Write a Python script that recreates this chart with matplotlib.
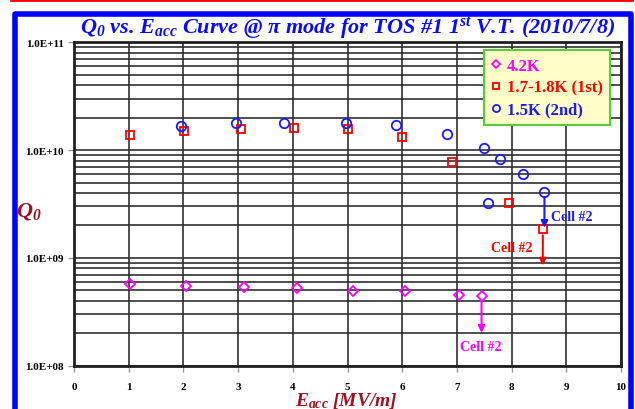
import matplotlib
matplotlib.use("Agg")
import matplotlib.pyplot as plt
from matplotlib.lines import Line2D
from matplotlib.ticker import LogLocator, NullFormatter, FixedLocator

plt.rcParams['font.family'] = ['Liberation Serif', 'DejaVu Serif']
plt.rcParams['mathtext.fontset'] = 'custom'
plt.rcParams['mathtext.rm'] = 'Liberation Serif:bold:italic'
plt.rcParams['mathtext.it'] = 'Liberation Serif:bold:italic'
plt.rcParams['mathtext.bf'] = 'Liberation Serif:bold:italic'

# 4.2K
e_42 = [1.02, 2.05, 3.11, 4.08, 5.10, 6.05, 7.03, 7.45]
q_42 = [5.73e8, 5.46e8, 5.37e8, 5.22e8, 4.96e8, 4.93e8, 4.56e8, 4.46e8]

# 1.7-1.8K (1st)
e_18 = [1.02, 2.01, 3.05, 4.02, 5.01, 6.00, 6.91, 7.95, 8.57]
q_18 = [1.39e10, 1.51e10, 1.57e10, 1.59e10, 1.57e10, 1.32e10, 7.76e9, 3.21e9, 1.84e9]

# 1.5K (2nd)
e_15 = [1.95, 2.96, 3.84, 4.97, 5.88, 6.81, 7.50, 7.79, 8.20, 7.56, 8.60]
q_15 = [1.68e10, 1.77e10, 1.78e10, 1.80e10, 1.72e10, 1.41e10, 1.04e10, 8.3e9, 6.0e9, 3.23e9, 4.11e9]

# "Cell #2" arrows: (x, y_start, y_end, label x, label y)
arrow_15 = (8.60, 3.9e9, 1.79e9, 8.72, 2.4e9)
arrow_18 = (8.57, 1.72e9, 8.0e8, 7.63, 1.26e9)
arrow_42 = (7.45, 4.2e8, 1.9e8, 7.05, 1.5e8)

magenta = '#ff00ff'
red = '#ff0000'
blue = '#1a1aff'
dark_red = '#a01020'

fig = plt.figure(figsize=(6.35, 4.10), dpi=100)
ax = fig.add_axes([0.1165, 0.1056, 0.978 - 0.1165, 0.8944 - 0.1056])

ax.plot(e_42, q_42, 'D', ms=5.5, mfc='none', mec=magenta, mew=1.3, ls='none', label='4.2K')
ax.plot(e_18, q_18, 's', ms=5.8, mfc='none', mec=red, mew=1.3, ls='none', label='1.7-1.8K (1st)')
ax.plot(e_15, q_15, 'o', ms=6.8, mfc='none', mec=blue, mew=1.3, ls='none', label='1.5K (2nd)')

for (x, y0, y1, tx, ty), c in [(arrow_15, blue), (arrow_18, red), (arrow_42, magenta)]:
    ax.annotate('', xy=(x, y1), xytext=(x, y0),
                arrowprops=dict(arrowstyle='-|>', color=c, lw=1.5, mutation_scale=10))
    ax.text(tx, ty, 'Cell #2', color=c, fontsize=10, fontweight='bold', va='center')

ax.set_yscale('log')
ax.set_xlim(0, 10)
ax.set_ylim(1e8, 1e11)
ax.xaxis.set_major_locator(FixedLocator(range(0, 11)))
ax.yaxis.set_major_locator(LogLocator(base=10))
ax.yaxis.set_minor_locator(LogLocator(base=10, subs=range(2, 10)))
ax.yaxis.set_minor_formatter(NullFormatter())
ax.set_yticks([1e8, 1e9, 1e10, 1e11])
ax.set_yticklabels(['1.0E+08', '1.0E+09', '1.0E+10', '1.0E+11'])
ax.tick_params(axis='both', which='major', labelsize=8, color='#999999', length=4, width=1)
ax.tick_params(axis='y', which='minor', length=0)
for lab in ax.get_xticklabels() + ax.get_yticklabels():
    lab.set_fontweight('bold')
ax.tick_params(axis='x', pad=8)

ax.grid(which='major', color='#303030', lw=1.2)
ax.grid(which='minor', axis='y', color='#303030', lw=1.2)
for s in ax.spines.values():
    s.set_linewidth(2)
    s.set_color('#202020')

leg = ax.legend(loc='upper right', bbox_to_anchor=(0.98, 0.975),
                prop={'weight': 'bold', 'size': 12}, fancybox=False, framealpha=1,
                markerscale=0.75, handlelength=0.5, handletextpad=0.4, borderpad=0.45,
                labelspacing=0.35, borderaxespad=0)
leg.get_frame().set_facecolor('#ffffc8')
leg.get_frame().set_edgecolor('#55cc33')
leg.get_frame().set_linewidth(1.5)
for t, c in zip(leg.get_texts(), [magenta, red, blue]):
    t.set_color(c)

fig.text(0.547, 0.93, r'$Q_0$ vs. $E_{acc}$ Curve @ π mode for TOS #1 1$^{st}$ V.T. (2010/7/8)',
         ha='center', va='center', color='#0a0aff', fontsize=16,
         fontweight='bold', fontstyle='italic')
fig.text(0.046, 0.485, r'$Q_0$', ha='center', va='center', color=dark_red, fontsize=16)
fig.text(0.545, 0.022, r'$E_{acc}$ [MV/m]', ha='center', va='center', color=dark_red,
         fontsize=14, fontweight='bold', fontstyle='italic')

# blue frame around the slide (open at the bottom) and red rule on top
fig.add_artist(Line2D([14.5 / 635, 14.5 / 635, 630.5 / 635, 630.5 / 635],
                      [0, 1 - 15 / 410, 1 - 15 / 410, 0],
                      transform=fig.transFigure, color='#0000ff', lw=4))
fig.add_artist(Line2D([11 / 635, 632 / 635], [1 - 1 / 410, 1 - 1 / 410],
                      transform=fig.transFigure, color='#ff0000', lw=2))

fig.savefig('out.png', dpi=100)
